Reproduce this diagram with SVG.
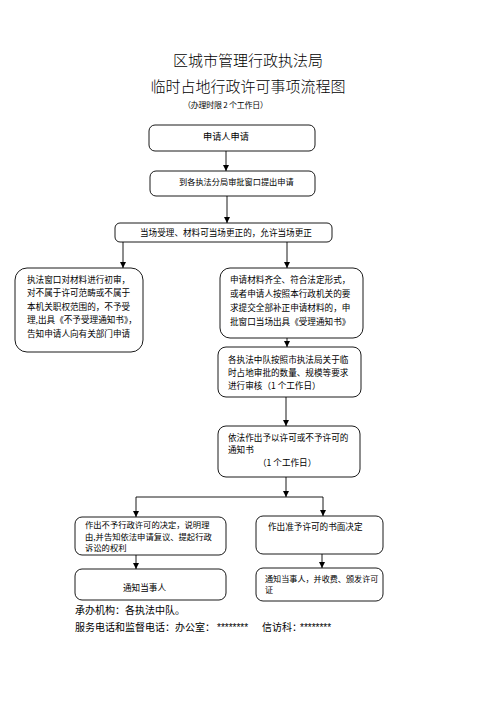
<svg xmlns="http://www.w3.org/2000/svg" width="496" height="702" viewBox="0 0 496 702">
<style>
.box{fill:#fff;stroke:#000;stroke-width:0.9}
.t{font-family:"Noto Sans CJK SC","Liberation Sans",sans-serif;font-size:8.6px;fill:#000}
.title{font-family:"Noto Sans CJK SC","Liberation Serif",serif;font-size:15px;font-weight:300;fill:#000;text-anchor:middle}
.foot{font-family:"Noto Sans CJK SC","Liberation Sans",sans-serif;font-size:10px;fill:#000}
.ln{stroke:#000;stroke-width:0.9;fill:none}
</style>
<defs>
<marker id="ah" viewBox="0 0 10 10" refX="10" refY="5" markerWidth="6" markerHeight="6" markerUnits="userSpaceOnUse" orient="auto">
<path d="M0,0 L10,5 L0,10 Z" fill="#000"/>
</marker>
</defs>
<rect width="496" height="702" fill="#fff"/>
<g id="title">
<text class="title" x="248" y="66">区城市管理行政执法局</text>
<text class="title" x="248" y="92">临时占地行政许可事项流程图</text>
<text class="t" x="183" y="108" style="font-size:8px" textLength="85">（办理时限 2 个工作日）</text>
</g>
<g id="connectors">
<path class="ln" d="M226,151 V171" marker-end="url(#ah)"/>
<path class="ln" d="M227,196 V223" marker-end="url(#ah)"/>
<path class="ln" d="M123,242 V268" marker-end="url(#ah)"/>
<path class="ln" d="M287,242 V268" marker-end="url(#ah)"/>
<path class="ln" d="M287,338 V347" marker-end="url(#ah)"/>
<path class="ln" d="M286,397 V426" marker-end="url(#ah)"/>
<path class="ln" d="M286,477 V497" marker-end="url(#ah)"/>
<path class="ln" d="M136,497 H323"/>
<path class="ln" d="M136,497 V517" marker-end="url(#ah)"/>
<path class="ln" d="M323,497 V516" marker-end="url(#ah)"/>
<path class="ln" d="M136,555 V569" marker-end="url(#ah)"/>
<path class="ln" d="M322,554 V568" marker-end="url(#ah)"/>
</g>
<g id="n1">
<rect class="box" x="149" y="125" width="166" height="26" rx="6"/>
<text class="t" x="203" y="140" style="font-size:9.2px">申请人申请</text>
</g>
<g id="n2">
<rect class="box" x="150" y="171" width="165" height="25" rx="6"/>
<text class="t" x="179" y="185" style="font-size:8.2px">到各执法分局审批窗口提出申请</text>
</g>
<g id="n3">
<rect class="box" x="115" y="223" width="217" height="19" rx="5"/>
<text class="t" x="140" y="236">当场受理、材料可当场更正的，允许当场更正</text>
</g>
<g id="n4">
<rect class="box" x="15" y="268" width="128" height="84" rx="12"/>
<text class="t" x="27" y="283">执法窗口对材料进行初审，</text>
<text class="t" x="27" y="296">对不属于许可范畴或不属于</text>
<text class="t" x="27" y="310">本机关职权范围的，不予受</text>
<text class="t" x="27" y="323">理,出具《不予受理通知书》，</text>
<text class="t" x="27" y="337">告知申请人向有关部门申请</text>
</g>
<g id="n5">
<rect class="box" x="220" y="268" width="143" height="70" rx="10"/>
<text class="t" x="230" y="283">申请材料齐全、符合法定形式，</text>
<text class="t" x="230" y="297">或者申请人按照本行政机关的要</text>
<text class="t" x="230" y="311">求提交全部补正申请材料的，申</text>
<text class="t" x="230" y="325">批窗口当场出具《受理通知书》</text>
</g>
<g id="n6">
<rect class="box" x="218" y="347" width="143" height="50" rx="8"/>
<text class="t" x="228" y="363">各执法中队按照市执法局关于临</text>
<text class="t" x="228" y="376">时占地审批的数量、规模等要求</text>
<text class="t" x="228" y="389">进行审核（1 个工作日）</text>
</g>
<g id="n7">
<rect class="box" x="218" y="426" width="142" height="51" rx="8"/>
<text class="t" x="228" y="441">依法作出予以许可或不予许可的</text>
<text class="t" x="228" y="453">通知书</text>
<text class="t" x="258" y="466">（1 个工作日）</text>
</g>
<g id="n8">
<rect class="box" x="75" y="517" width="151" height="38" rx="7"/>
<text class="t" x="85" y="528" style="font-size:8.3px">作出不予行政许可的决定，说明理</text>
<text class="t" x="85" y="540" style="font-size:8.3px">由,并告知依法申请复议、提起行政</text>
<text class="t" x="85" y="551" style="font-size:8.3px">诉讼的权利</text>
</g>
<g id="n9">
<rect class="box" x="75" y="569" width="151" height="31" rx="7"/>
<text class="t" x="123" y="591">通知当事人</text>
</g>
<g id="n10">
<rect class="box" x="256" y="516" width="127" height="38" rx="7"/>
<text class="t" x="268" y="530">作出准予许可的书面决定</text>
</g>
<g id="n11">
<rect class="box" x="256" y="568" width="127" height="33" rx="7"/>
<text class="t" x="265" y="582" style="font-size:8.1px">通知当事人，并收费、颁发许可</text>
<text class="t" x="265" y="593" style="font-size:8.1px">证</text>
</g>
<g id="footer">
<text class="foot" x="75" y="614">承办机构：各执法中队。</text>
<text class="foot" x="75" y="631">服务电话和监督电话：办公室：</text>
<text class="foot" x="217" y="631" style="font-family:'Liberation Sans',sans-serif;font-size:10px">********</text>
<text class="foot" x="262" y="631">信访科：</text>
<text class="foot" x="300" y="631" style="font-family:'Liberation Sans',sans-serif;font-size:10px">********</text>
</g>
</svg>
